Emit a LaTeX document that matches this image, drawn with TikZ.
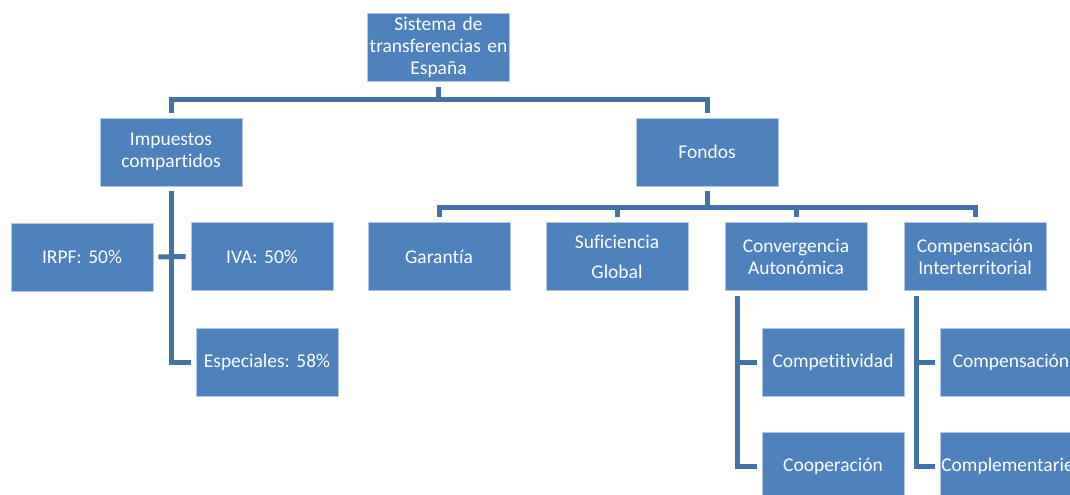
\documentclass[tikz,border=0pt]{standalone}
\usepackage{fontspec}
\setmainfont{Carlito}[Ligatures=NoCommon,WordSpace=0.8]
\usepackage{tikz}
\definecolor{boxblue}{HTML}{4F81BD}
\definecolor{lineblue}{HTML}{4472A8}
\frenchspacing

\begin{document}
\begin{tikzpicture}[x=0.75pt,y=-0.75pt,
    box_node/.style={rectangle,draw=white!55!boxblue,line width=0.6pt,fill=boxblue,text=white,
        minimum width=106.5pt,minimum height=51pt,text width=104.5pt,inner sep=1pt,
        outer sep=4pt,align=center,font=\fontsize{14.6}{16.5}\selectfont},
    conn_line/.style={draw=lineblue,line width=3.75pt}]

    \useasboundingbox (0,0) rectangle (1070,495);
    \clip (0,0) rectangle (1070,495);

    \node[box_node] (root) at (438.5, 47.5) {Sistema de\\\mbox{transferencias en}\\España};
    \node[box_node] (imp) at (171, 152) {Impuestos\\compartidos};
    \node[box_node] (fon) at (707, 152) {Fondos};
    \node[box_node] (irpf) at (82, 257) {IRPF: 50\%};
    \node[box_node] (iva) at (262, 256.5) {IVA: 50\%};
    \node[box_node] (esp) at (267, 362) {Especiales: 58\%};
    \node[box_node] (gar) at (439, 256.5) {Garantía};
    \node[box_node] (suf) at (617, 256.5) {Suficiencia\\[6pt]Global};
    \node[box_node] (conv) at (796, 256.5) {Convergencia\\Autonómica};
    \node[box_node] (cit) at (975, 256.5) {Compensación\\Interterritorial};
    \node[box_node] (comp) at (833, 362) {Competitividad};
    \node[box_node] (coop) at (833, 466) {Cooperación};
    \node[box_node] (fcomp) at (1011, 362) {Compensación};
    \node[box_node] (fcompl) at (1011, 466) {\mbox{Complementariedad}};

    \coordinate (bar1) at (438.5, 100);
    \coordinate (bar2) at (707, 208);
    \coordinate (conv_trunk) at (737, 0);
    \coordinate (cit_trunk) at (916, 0);

    \draw[conn_line] (root.south) -- (bar1);
    \draw[conn_line] (imp.north) |- (bar1) -| (fon.north);
    \draw[conn_line] (imp.south) |- (esp.west);
    \draw[conn_line] (irpf.east) -- (iva.west);
    \draw[conn_line] (fon.south) -- (bar2);
    \draw[conn_line] (gar.north) |- (bar2) -| (cit.north);
    \draw[conn_line] (suf.north) -- (suf.north |- bar2);
    \draw[conn_line] (conv.north) -- (conv.north |- bar2);
    \draw[conn_line] (conv.south -| conv_trunk) |- (comp.west);
    \draw[conn_line] (conv.south -| conv_trunk) |- (coop.west);
    \draw[conn_line] (cit.south -| cit_trunk) |- (fcomp.west);
    \draw[conn_line] (cit.south -| cit_trunk) |- (fcompl.west);
\end{tikzpicture}
\end{document}
